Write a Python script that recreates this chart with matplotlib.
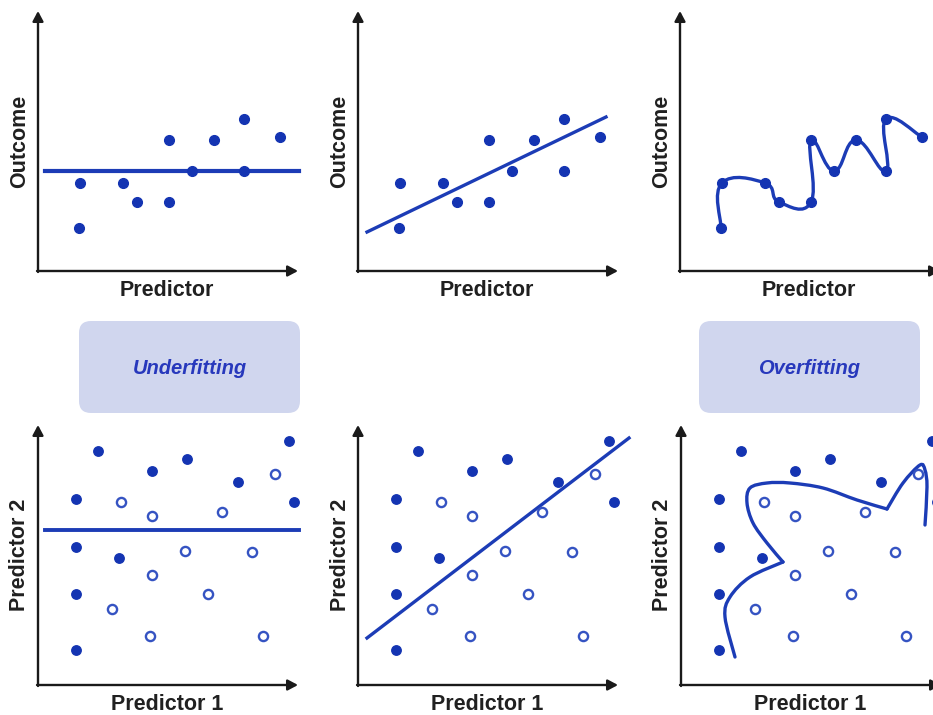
import matplotlib
matplotlib.use("Agg")
import matplotlib.pyplot as plt
from matplotlib.path import Path
from matplotlib.patches import PathPatch, FancyBboxPatch
import numpy as np

# ---------------- data (units: roughly pixels from the axis origin) ----------------
# Top row: single predictor vs outcome
pred_x = [42, 41, 85, 99, 131, 131, 154, 176, 206, 206, 242]
outcome_y = [88, 43, 88, 69, 69, 131, 100, 131, 152, 100, 134]

underfit_level = 100          # horizontal line (top-left)
good_line_x = [9, 248]        # straight fit (top-middle)
good_line_y = [39, 154]

# order in which the overfit curve passes through the points (top-right)
overfit_order = [1, 0, 2, 3, 4, 5, 6, 7, 9, 8, 10]

# Bottom row: two predictors, two classes
filled_x = [60, 114, 149, 251, 200, 38, 256, 38, 81, 38, 38]
filled_y = [234, 214, 226, 244, 203, 186, 183, 138, 127, 91, 35]
open_x = [83, 114, 184, 237, 147, 214, 114, 170, 74, 112, 225]
open_y = [183, 169, 173, 211, 134, 133, 110, 91, 76, 49, 49]

class_underfit_level = 155
class_line_x = [9, 271]
class_line_y = [47, 247]

# overfit decision boundary, three smooth pieces joined at corners
boundary_a_x = [54, 44, 49, 69, 102]
boundary_a_y = [28, 68, 88, 108, 123]
boundary_b_x = [102, 86, 72, 66, 69, 86, 109, 142, 176, 206]
boundary_b_y = [123, 142, 162, 182, 197, 202, 202, 197, 185, 176]
boundary_c_x = [206, 222, 239, 244, 246, 244]
boundary_c_y = [176, 202, 220, 215, 198, 160]

xlabel_top = "Predictor"
ylabel_top = "Outcome"
xlabel_bottom = "Predictor 1"
ylabel_bottom = "Predictor 2"
box_labels = ["Underfitting", "Overfitting"]

# ---------------- style ----------------
W, H = 933, 715
BLUE = "#1434b2"
LINE = "#1c3cb6"
OPEN = "#3553c2"
BOXC = "#d0d6ee"
BOXT = "#2738bc"
AXC = "#1a1a1a"
FONT = "Liberation Sans"

fig = plt.figure(figsize=(W / 100, H / 100), dpi=100)
fig.patch.set_facecolor("white")

# overlay axes in pixel coordinates for the two label boxes
bg = fig.add_axes([0, 0, 1, 1])
bg.set_xlim(0, W)
bg.set_ylim(H, 0)
bg.axis("off")
for (x0, y0, x1, y1), lab in zip([(79, 321, 300, 413), (699, 321, 920, 413)], box_labels):
    bg.add_patch(FancyBboxPatch((x0, y0), x1 - x0, y1 - y0,
                                boxstyle="round,pad=0,rounding_size=12",
                                fc=BOXC, ec="none"))
    bg.text((x0 + x1) / 2, (y0 + y1) / 2 + 1, lab, ha="center", va="center",
            fontsize=14.5, fontweight="bold", fontstyle="italic",
            color=BOXT, family=FONT)


def panel(ox, oy, xlabel, ylabel):
    """Axes whose data units are pixels measured from the arrow origin."""
    pad, ext = 12, 262
    ax = fig.add_axes([(ox - pad) / W, (H - (oy + pad)) / H,
                       (pad + ext) / W, (pad + ext) / H])
    ax.set_xlim(-pad, ext)
    ax.set_ylim(-pad, ext)
    ax.axis("off")
    ap = dict(arrowstyle="-|>,head_length=0.6,head_width=0.32", lw=1.7,
              color=AXC, shrinkA=0, shrinkB=0)
    ax.annotate("", xy=(260, 0), xytext=(-1, 0), arrowprops=ap,
                annotation_clip=False)
    ax.annotate("", xy=(0, 260), xytext=(0, -1), arrowprops=ap,
                annotation_clip=False)
    ax.text(129, -19, xlabel, ha="center", va="center", fontsize=15.5,
            fontweight="bold", color="#202020", family=FONT, clip_on=False)
    ax.text(-18, 130, ylabel, ha="center", va="center", rotation=90,
            fontsize=15.5, fontweight="bold", color="#202020", family=FONT,
            clip_on=False)
    return ax


def smooth_path(xs, ys, k=1 / 6.0):
    """Catmull-Rom knots turned into cubic Bezier segments for a Path."""
    p = np.column_stack([xs, ys]).astype(float)
    ext = np.vstack([p[0], p, p[-1]])
    verts = [p[0]]
    codes = [Path.MOVETO]
    for i in range(1, len(ext) - 2):
        p0, p1, p2, p3 = ext[i - 1], ext[i], ext[i + 1], ext[i + 2]
        c1 = p1 + (p2 - p0) * k
        c2 = p2 - (p3 - p1) * k
        verts += [c1, c2, p2]
        codes += [Path.CURVE4] * 3
    return Path(verts, codes)


def dots(ax):
    ax.plot(pred_x, outcome_y, "o", ms=7, color=BLUE, mec=BLUE, clip_on=False, zorder=3)


def classes(ax):
    ax.plot(filled_x, filled_y, "o", ms=6.8, color=BLUE, mec=BLUE, clip_on=False, zorder=3)
    ax.plot(open_x, open_y, "o", ms=6.6, mfc="white", mec=OPEN, mew=1.7,
            clip_on=False, zorder=3)


# top-left: underfit
ax1 = panel(38, 271, xlabel_top, ylabel_top)
dots(ax1)
ax1.plot([7, 261], [underfit_level, underfit_level], color=LINE, lw=3.0, clip_on=False)

# top-middle: good fit
ax2 = panel(358, 271, xlabel_top, ylabel_top)
dots(ax2)
ax2.plot(good_line_x, good_line_y, color=LINE, lw=2.4, clip_on=False)

# top-right: overfit
ax3 = panel(680, 271, xlabel_top, ylabel_top)
ox_ = [pred_x[i] for i in overfit_order]
oy_ = [outcome_y[i] for i in overfit_order]
ax3.add_patch(PathPatch(smooth_path(ox_, oy_, k=1 / 4.5), fc="none", ec=LINE, lw=2.4,
                        capstyle="round", joinstyle="round", clip_on=False))
dots(ax3)

# bottom-left: underfit classifier
ax4 = panel(38, 685, xlabel_bottom, ylabel_bottom)
classes(ax4)
ax4.plot([7, 261], [class_underfit_level, class_underfit_level], color=LINE, lw=2.8,
         clip_on=False)

# bottom-middle: linear boundary
ax5 = panel(358, 685, xlabel_bottom, ylabel_bottom)
classes(ax5)
ax5.plot(class_line_x, class_line_y, color=LINE, lw=2.4, clip_on=False)

# bottom-right: overfit boundary
ax6 = panel(681, 685, xlabel_bottom, ylabel_bottom)
classes(ax6)
for bx, by in [(boundary_a_x, boundary_a_y), (boundary_b_x, boundary_b_y),
               (boundary_c_x, boundary_c_y)]:
    ax6.add_patch(PathPatch(smooth_path(bx, by), fc="none", ec=LINE, lw=2.4,
                            capstyle="round", joinstyle="round", clip_on=False))

fig.savefig("out.png", dpi=100, facecolor="white")
